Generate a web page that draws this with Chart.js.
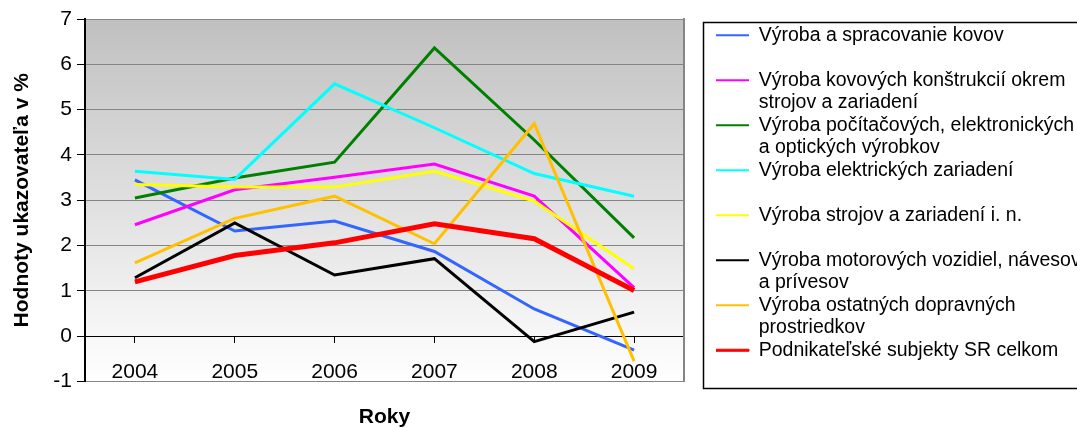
<!DOCTYPE html>
<html lang="sk">
<head>
<meta charset="utf-8">
<title>Hodnoty ukazovateľa v %</title>
<script src="https://cdn.jsdelivr.net/npm/chart.js@4.4.1/dist/chart.umd.min.js"></script>
<style>
  html, body { margin: 0; padding: 0; background: #fff; }
  #wrap { position: relative; width: 1077px; height: 428px; }
</style>
</head>
<body>
<div id="wrap"><canvas id="chartUkazovatel"></canvas></div>
<script>
// Roky na osi x
const ROKY = ['2004', '2005', '2006', '2007', '2008', '2009'];

// Rozsah osi y (%)
const Y_MIN = -1;
const Y_MAX = 7;

// Hodnoty ukazovateľa v % (odčítané z grafu)
const kovy        = [3.45, 2.32, 2.54, 1.87, 0.60, -0.31];
const konstrukcie = [2.46, 3.23, 3.51, 3.80, 3.09, 1.07];
const pocitace    = [3.05, 3.49, 3.84, 6.36, 4.33, 2.17];
const elektro     = [3.64, 3.46, 5.57, 4.60, 3.59, 3.09];
const stroje      = [3.35, 3.29, 3.29, 3.64, 2.98, 1.49];
const vozidla     = [1.29, 2.50, 1.35, 1.71, -0.12, 0.53];
const doprava     = [1.62, 2.60, 3.09, 2.04, 4.69, -0.55];
const celkom      = [1.20, 1.78, 2.06, 2.48, 2.15, 1.01];

// Názvy radov v legende (zalomené ako v origináli)
const NAZVY = [
    ['Výroba a spracovanie kovov', ''],
    ['Výroba kovových konštrukcií okrem', 'strojov a zariadení'],
    ['Výroba počítačových, elektronických', 'a optických výrobkov'],
    ['Výroba elektrických zariadení', ''],
    ['Výroba strojov a zariadení i. n.', ''],
    ['Výroba motorových vozidiel, návesov', 'a prívesov'],
    ['Výroba ostatných dopravných', 'prostriedkov'],
    ['Podnikateľské subjekty SR celkom', ''],
];

const FARBY = ['#3366FF', '#FF00FF', '#008000', '#00FFFF', '#FFFF00', '#000000', '#FFC000', '#FF0000'];

const SERIE = [kovy, konstrukcie, pocitace, elektro, stroje, vozidla, doprava, celkom];

Chart.defaults.font.family = "'Liberation Sans', Arial, sans-serif";
Chart.defaults.color = '#000';

// Pozadie grafu - sivý prechod
const pozadie = {
    id: 'pozadie',
    beforeDraw(chart) {
        const { ctx, chartArea: a } = chart;
        const g = ctx.createLinearGradient(0, a.top, 0, a.bottom);
        g.addColorStop(0, '#c0c0c0');
        g.addColorStop(1, '#ffffff');
        ctx.save();
        ctx.fillStyle = g;
        ctx.fillRect(a.left, a.top, a.right - a.left, a.bottom - a.top);
        ctx.restore();
    }
};

// Rámček okolo legendy
const ramikLegendy = {
    id: 'ramikLegendy',
    afterDraw(chart) {
        const lg = chart.legend;
        if (!lg || !lg.legendHitBoxes || !lg.legendHitBoxes.length) return;
        const hb = lg.legendHitBoxes;
        const prvy = hb[0];
        const posledny = hb[hb.length - 1];
        const x = Math.round(lg.left - 13) + 0.5;
        const top = Math.round(prvy.top - 3.5) + 0.5;
        const bottom = Math.round(posledny.top + posledny.height + 2.5) + 0.5;
        const ctx = chart.ctx;
        ctx.save();
        ctx.strokeStyle = '#000';
        ctx.lineWidth = 1.5;
        ctx.strokeRect(x, top, chart.width - x + 5, bottom - top);
        ctx.restore();
    }
};

const datasets = SERIE.map((data, i) => ({
    label: NAZVY[i].filter(Boolean).join(' '),
    data,
    borderColor: FARBY[i],
    backgroundColor: FARBY[i],
    borderWidth: i === SERIE.length - 1 ? 5 : 3,
    pointRadius: 0,
    tension: 0,
    fill: false,
    order: SERIE.length - 1 - i,   // posledný rad kreslený navrchu
}));

new Chart(document.getElementById('chartUkazovatel'), {
    type: 'line',
    data: { labels: ROKY, datasets },
    options: {
        responsive: true,
        maintainAspectRatio: false,
        animation: false,
        events: [],
        layout: { padding: 0 },
        scales: {
            x: {
                type: 'category',
                position: { y: 0 },
                offset: true,
                grid: { drawOnChartArea: false, drawTicks: true, tickLength: 6, color: '#000' },
                border: { display: true, color: '#000', width: 1 },
                ticks: { color: '#000', font: { size: 21 }, padding: 17, maxRotation: 0, autoSkip: false },
            },
            xHore: {
                axis: 'x',
                type: 'category',
                position: 'top',
                grid: { display: false },
                border: { display: false },
                ticks: { display: false },
                afterFit: s => { s.height = 19; },
            },
            y: {
                min: Y_MIN,
                max: Y_MAX,
                position: 'left',
                ticks: { stepSize: 1, color: '#000', font: { size: 21 }, padding: 5 },
                grid: {
                    color: c => (c.tick && c.tick.value === 0 ? '#000' : '#858585'),
                    tickColor: '#000',
                    tickLength: 8,
                    lineWidth: 1,
                },
                border: { display: true, color: '#000', width: 2 },
                title: {
                    display: true,
                    text: 'Hodnoty ukazovateľa v %',
                    color: '#000',
                    font: { size: 21, weight: 'bold' },
                    padding: { top: 9.5, bottom: 0 },
                },
                afterFit: s => { s.width = 85; },
            },
            yVpravo: {
                axis: 'y',
                type: 'linear',
                position: 'right',
                grid: { display: false },
                ticks: { display: false },
                border: { display: true, color: '#858585', width: 2 },
                afterFit: s => { s.width = 32; },
            },
        },
        plugins: {
            tooltip: { enabled: false },
            title: {
                display: true,
                text: 'Roky',
                position: 'bottom',
                fullSize: false,
                color: '#000',
                font: { size: 21, weight: 'bold', lineHeight: 1 },
                padding: { top: 25.5, bottom: 0 },
            },
            legend: {
                position: 'right',
                align: 'start',
                fullSize: true,
                maxWidth: 361,
                // prázdny nadpis len ako odsadenie položiek zhora
                title: { display: true, text: '', font: { size: 25, lineHeight: 1 }, padding: { top: 0.5, bottom: 0 } },
                labels: {
                    boxWidth: 33,
                    boxHeight: 2,
                    padding: 0,
                    color: '#000',
                    font: { size: 19.5, lineHeight: '22.5px' },
                    generateLabels: chart => chart.data.datasets.map((ds, i) => ({
                        text: NAZVY[i],
                        fillStyle: ds.borderColor,
                        strokeStyle: ds.borderColor,
                        lineWidth: ds.borderWidth > 3 ? 1 : 0,
                        hidden: !chart.isDatasetVisible(i),
                        datasetIndex: i,
                    })),
                },
            },
        },
    },
    plugins: [pozadie, ramikLegendy],
});
</script>
</body>
</html>
